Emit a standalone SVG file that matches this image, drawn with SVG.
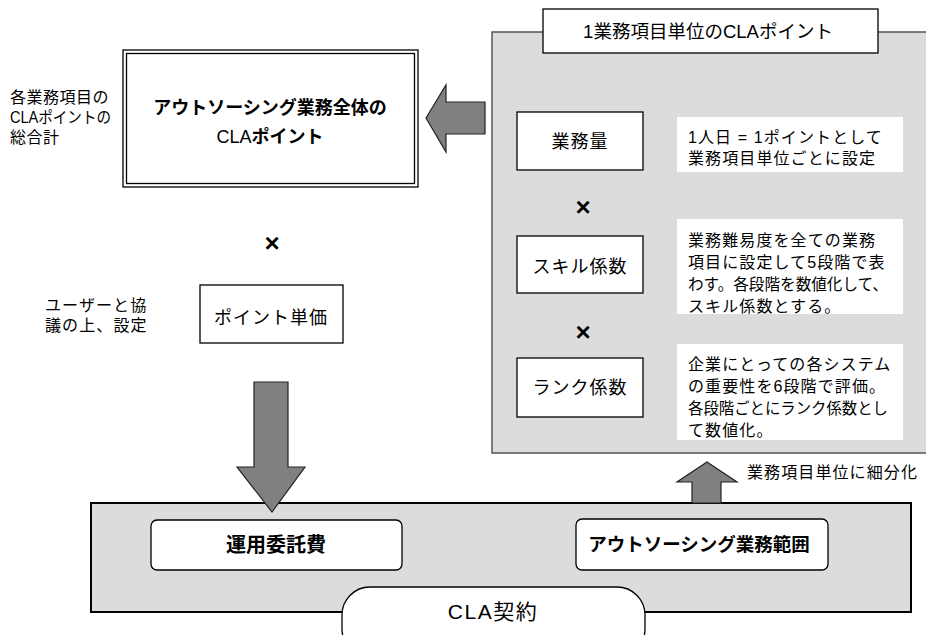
<svg xmlns="http://www.w3.org/2000/svg" width="926" height="635" viewBox="0 0 926 635">
<style>
text{font-family:"Liberation Sans","Noto Sans CJK JP",sans-serif;fill:#000}
.box{fill:#fff;stroke:#000;stroke-width:1.3}
.panel{fill:#dcdcdc}
.arrow{fill:#808080;stroke:#222;stroke-width:1.2;stroke-linejoin:miter}
.lbl{font-size:16px;letter-spacing:0.5px}
.desc{font-size:16px;letter-spacing:1.1px}
.node{font-size:18px;letter-spacing:1px;text-anchor:middle}
.x{font-size:26px;font-weight:bold;text-anchor:middle}
</style>
<rect width="926" height="635" fill="#fff"/>

<g id="right-panel">
<rect class="panel" x="492" y="32" width="440" height="421" stroke="#555" stroke-width="1.5"/>
</g>
<g id="right-title">
<rect class="box" x="543" y="9" width="335" height="44"/>
<text x="708" y="38" font-size="18.5" text-anchor="middle">1業務項目単位のCLAポイント</text>
</g>

<g id="bottom-panel">
<rect class="panel" x="91" y="503" width="820" height="109" stroke="#000" stroke-width="2"/>
</g>

<g id="total-points">
<rect x="123" y="50" width="295" height="137" fill="#fff" stroke="#000" stroke-width="1.3"/>
<rect x="126.5" y="53.5" width="288" height="130" fill="none" stroke="#000" stroke-width="1.3"/>
<text x="270" y="114" font-size="18" font-weight="bold" text-anchor="middle">アウトソーシング業務全体の</text>
<text x="270" y="143" font-size="18" text-anchor="middle">CLA<tspan font-weight="bold">ポイント</tspan></text>
</g>
<g id="total-label">
<text class="lbl" x="10" y="103">各業務項目の</text>
<text x="10" y="123" font-size="16" textLength="101" lengthAdjust="spacingAndGlyphs">CLAポイントの</text>
<text class="lbl" x="10" y="143">総合計</text>
</g>

<g id="times-left"><text class="x" x="272" y="252">×</text></g>

<g id="unit-price">
<rect class="box" x="200" y="285" width="143" height="58"/>
<text class="node" x="271" y="324" font-size="17">ポイント単価</text>
</g>
<g id="unit-price-label">
<text class="desc" x="45" y="311">ユーザーと協</text>
<text class="desc" x="45" y="331">議の上、設定</text>
</g>

<g id="volume">
<rect class="box" x="517" y="112" width="126" height="58"/>
<text class="node" x="580" y="148" font-size="20">業務量</text>
</g>
<g id="volume-desc">
<rect x="677" y="117" width="226" height="55" fill="#fff"/>
<text class="desc" x="688" y="143">1人日 = 1ポイントとして</text>
<text class="desc" x="688" y="164">業務項目単位ごとに設定</text>
</g>

<g id="times-1"><text class="x" x="583" y="216">×</text></g>

<g id="skill">
<rect class="box" x="517" y="236" width="126" height="57"/>
<text class="node" x="580" y="273">スキル係数</text>
</g>
<g id="skill-desc">
<rect x="677" y="219" width="226" height="95" fill="#fff"/>
<text class="desc" x="688" y="246">業務難易度を全ての業務</text>
<text class="desc" x="688" y="268">項目に設定して5段階で表</text>
<text x="688" y="290" font-size="16" textLength="200" lengthAdjust="spacingAndGlyphs">わす。各段階を数値化して、</text>
<text class="desc" x="688" y="312">スキル係数とする。</text>
</g>

<g id="times-2"><text class="x" x="583" y="341">×</text></g>

<g id="rank">
<rect class="box" x="517" y="358" width="126" height="59"/>
<text class="node" x="580" y="394">ランク係数</text>
</g>
<g id="rank-desc">
<rect x="677" y="344" width="226" height="96" fill="#fff"/>
<text class="desc" x="688" y="370">企業にとっての各システム</text>
<text class="desc" x="688" y="392">の重要性を6段階で評価。</text>
<text x="688" y="414" font-size="16" textLength="200" lengthAdjust="spacingAndGlyphs">各段階ごとにランク係数とし</text>
<text class="desc" x="688" y="436">て数値化。</text>
</g>

<g id="fee">
<rect class="box" x="151" y="520" width="251" height="50" rx="6"/>
<text x="276" y="552" font-size="20" font-weight="bold" text-anchor="middle">運用委託費</text>
</g>
<g id="scope">
<rect class="box" x="576" y="519" width="252" height="51" rx="6"/>
<text x="699" y="551" font-size="18.5" font-weight="bold" text-anchor="middle">アウトソーシング業務範囲</text>
</g>

<g id="cla-contract">
<rect x="342" y="587" width="303" height="70" rx="28" fill="#fff" stroke="#000" stroke-width="1.3"/>
<text x="493" y="619" font-size="21" letter-spacing="1.5" text-anchor="middle">CLA契約</text>
</g>

<g id="connectors">
<polygon class="arrow" points="426,118 446,85 446,102 485,102 485,134 446,134 446,152"/>
<polygon class="arrow" points="254,382 288,382 288,467 305,467 272,512 237,467 254,467"/>
<polygon class="arrow" points="707,462 737,482 721,482 721,503 692,503 692,482 677,482"/>
<text class="desc" x="747" y="478" letter-spacing="1">業務項目単位に細分化</text>
</g>
</svg>
